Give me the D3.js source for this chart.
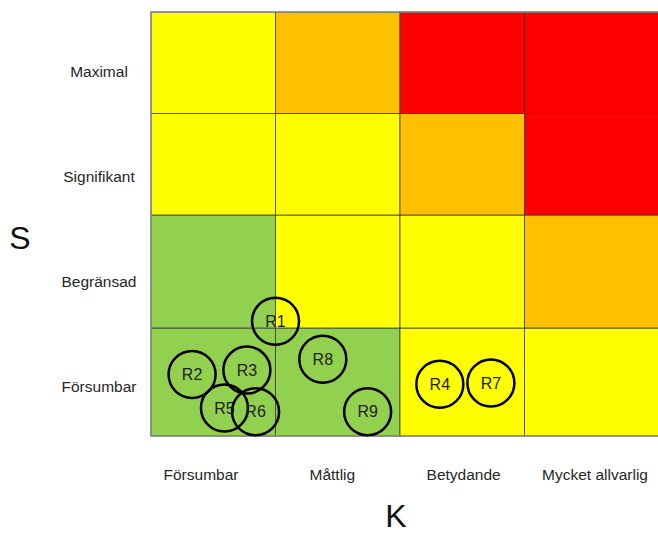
<!DOCTYPE html>
<html>
<head>
<meta charset="utf-8">
<script src="https://cdn.jsdelivr.net/npm/d3@7"></script>
<style>
	body { margin: 0; background: #fff; }
	text { font-family: Arial, "Liberation Sans", sans-serif; }
</style>
</head>
<body>
<div id="chart"></div>
<script>
// Konsekvens (K) och sannolikhet (S)
var consequences = ["Försumbar", "Måttlig", "Betydande", "Mycket allvarlig"];
var likelihoods = ["Försumbar", "Begränsad", "Signifikant", "Maximal"]; // bottom to top

// cell level per row (bottom to top), per column (left to right)
var levels = [
	["low", "low", "mid", "mid"],
	["low", "mid", "mid", "high"],
	["mid", "mid", "high", "top"],
	["mid", "high", "top", "top"]
];

// risks: position in (consequence, likelihood) units
var riskNames = ["R1", "R2", "R3", "R4", "R5", "R6", "R7", "R8", "R9"];
var riskK = [1.0, 0.33, 0.77, 2.32, 0.59, 0.84, 2.73, 1.38, 1.74];
var riskS = [1.06, 0.57, 0.61, 0.48, 0.26, 0.225, 0.49, 0.71, 0.225];

var colors = { low: "#92D050", mid: "#FFFF00", high: "#FFC000", top: "#FF0000" };

var width = 658, height = 534;

var svg = d3.select("#chart").append("svg")
	.attr("width", width)
	.attr("height", height);

// piecewise scales, rows are not all the same height
var x = d3.scaleLinear().domain([0, 1, 2, 3, 4]).range([151, 275.5, 400, 524.5, 660]);
var y = d3.scaleLinear().domain([0, 1, 2, 3, 4]).range([436, 328, 215, 113.5, 12]);

var cells = [];
levels.forEach(function (row, r) {
	row.forEach(function (lvl, c) {
		cells.push({ r: r, c: c, lvl: lvl });
	});
});

var grid = svg.append("g").classed("grid", true);

grid.selectAll("rect")
	.data(cells)
	.enter()
	.append("rect")
	.attr("x", function (d) { return x(d.c); })
	.attr("y", function (d) { return y(d.r + 1); })
	.attr("width", function (d) { return x(d.c + 1) - x(d.c); })
	.attr("height", function (d) { return y(d.r) - y(d.r + 1); })
	.attr("fill", function (d) { return colors[d.lvl]; })
	.attr("stroke", "#3a3a3a")
	.attr("stroke-opacity", 0.8)
	.attr("stroke-width", 1);

// outer frame
grid.append("rect")
	.attr("x", x(0))
	.attr("y", y(4))
	.attr("width", x(4) - x(0))
	.attr("height", y(0) - y(4))
	.attr("fill", "none")
	.attr("stroke", "#8a8a8a")
	.attr("stroke-width", 1.5);

// row labels
var yLab = d3.scalePoint().domain(likelihoods).range([387, 72]);
svg.append("g")
	.selectAll("text")
	.data(likelihoods)
	.enter()
	.append("text")
	.attr("x", 99)
	.attr("y", function (d) { return yLab(d); })
	.attr("dy", "0.35em")
	.attr("text-anchor", "middle")
	.attr("font-size", "15.5px")
	.attr("fill", "#262626")
	.text(function (d) { return d; });

// column labels
var xLab = d3.scalePoint().domain(consequences).range([201, 595]);
svg.append("g")
	.selectAll("text")
	.data(consequences)
	.enter()
	.append("text")
	.attr("x", function (d) { return xLab(d); })
	.attr("y", 475)
	.attr("dy", "0.35em")
	.attr("text-anchor", "middle")
	.attr("font-size", "15.5px")
	.attr("fill", "#262626")
	.text(function (d) { return d; });

// axis titles
svg.append("text")
	.attr("x", 20).attr("y", 238).attr("dy", "0.35em")
	.attr("text-anchor", "middle")
	.attr("font-size", "32px")
	.attr("fill", "#111")
	.text("S");

svg.append("text")
	.attr("x", 396).attr("y", 516).attr("dy", "0.35em")
	.attr("text-anchor", "middle")
	.attr("font-size", "32px")
	.attr("fill", "#111")
	.text("K");

// risks
var risks = riskNames.map(function (n, i) {
	return { name: n, k: riskK[i], s: riskS[i] };
});

var rg = svg.append("g")
	.selectAll("g")
	.data(risks)
	.enter()
	.append("g")
	.attr("transform", function (d) { return "translate(" + x(d.k) + "," + y(d.s) + ")"; });

rg.append("circle")
	.attr("r", 23.5)
	.attr("fill", "none")
	.attr("stroke", "#000")
	.attr("stroke-width", 2.5);

rg.append("text")
	.attr("text-anchor", "middle")
	.attr("dy", "0.35em")
	.attr("font-size", "16px")
	.attr("fill", "#222")
	.text(function (d) { return d.name; });
</script>
</body>
</html>
